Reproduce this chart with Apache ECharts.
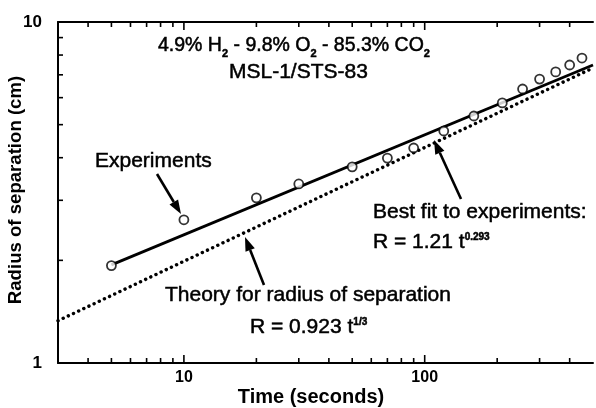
<!DOCTYPE html>
<html>
<head>
<meta charset="utf-8">
<script src="https://cdn.jsdelivr.net/npm/echarts@6/dist/echarts.min.js"></script>
<style>html,body{margin:0;padding:0;background:#fff}#chart{width:596px;height:408px}</style>
</head>
<body>
<div id="chart"></div>
<script>
const expTime = [5, 10, 20, 30, 50, 70, 90, 120, 160, 210, 255, 300, 350, 400, 450]
const expRadius = [1.93, 2.63, 3.05, 3.35, 3.76, 3.99, 4.27, 4.79, 5.30, 5.79, 6.36, 6.80, 7.14, 7.48, 7.84]
// best fit line  R = 1.21 t^0.293
const fitTime = [5, 500]
const fitRadius = [1.94, 7.48]
// theory line  R = 0.923 t^1/3
const theoryTime = [3, 500]
const theoryRadius = [1.33, 7.33]
// axis ranges and tick values
const xRange = [3, 500]
const yRange = [1, 10]
const xMajorTicks = [10, 100]
const xMinorTicks = [4, 5, 6, 7, 8, 9, 20, 30, 40, 50, 60, 70, 80, 90, 200, 300, 400]
const yMinorTicks = [2, 3, 4, 5, 6, 7, 8, 9]

const FONT = '"Liberation Sans", Arial, sans-serif'
const zip = (a, b) => a.map((v, i) => [v, b[i]])
const isDecade = v => Math.abs(Math.log10(v) - Math.round(Math.log10(v))) < 1e-6

const chart = echarts.init(document.getElementById('chart'))

// tick marks drawn inward on bottom+top (x) or left (y)
function xTicks(values, len) {
    return {
        type: 'custom', silent: true, clip: false, z: 4,
        data: values.map(v => [v, yRange[0]]),
        renderItem: (params, api) => {
            const v = api.value(0)
            const b = api.coord([v, yRange[0]])
            const t = api.coord([v, yRange[1]])
            const st = {stroke: '#000', lineWidth: 1.6}
            return {type: 'group', children: [
                {type: 'line', shape: {x1: b[0], y1: b[1], x2: b[0], y2: b[1] - len}, style: st},
                {type: 'line', shape: {x1: t[0], y1: t[1], x2: t[0], y2: t[1] + len}, style: st}
            ]}
        }
    }
}
function yTicks(values, len) {
    return {
        type: 'custom', silent: true, clip: false, z: 4,
        data: values.map(v => [xRange[0], v]),
        renderItem: (params, api) => {
            const p = api.coord([xRange[0], api.value(1)])
            return {type: 'line', shape: {x1: p[0], y1: p[1], x2: p[0] + len, y2: p[1]},
                style: {stroke: '#000', lineWidth: 1.6}}
        }
    }
}

function arrow(x1, y1, x2, y2) {
    const a = Math.atan2(y2 - y1, x2 - x1)
    const L = 14, W = 5
    const bx = x2 - L * Math.cos(a), by = y2 - L * Math.sin(a)
    const px = -Math.sin(a) * W, py = Math.cos(a) * W
    return [
        {type: 'line', shape: {x1: x1, y1: y1, x2: bx, y2: by}, style: {stroke: '#000', lineWidth: 2.6}},
        {type: 'polygon', shape: {points: [[x2, y2], [bx + px, by + py], [bx - px, by - py]]}, style: {fill: '#000'}}
    ]
}

function label(x, y, text, size, extra) {
    return {type: 'text', x: x, y: y, z: 10, style: Object.assign({
        text: text, fill: '#000', fontSize: size, fontFamily: FONT, verticalAlign: 'middle',
        stroke: '#000', lineWidth: 0.5
    }, extra || {})}
}
const sub = {fontSize: 11, fontFamily: FONT, verticalAlign: 'bottom', lineHeight: 11, fontWeight: 'bold'}
const sup = {fontSize: 10, fontFamily: FONT, verticalAlign: 'top', lineHeight: 10, fontWeight: 'bold'}

const axisBase = {
    type: 'log', logBase: 10,
    axisLine: {show: true, lineStyle: {color: '#000', width: 2}},
    axisTick: {show: false},
    minorTick: {show: false},
    splitLine: {show: false}
}

chart.setOption({
    animation: false,
    backgroundColor: '#fff',
    grid: {left: 58, top: 22, right: -6, bottom: 45},
    xAxis: [
        Object.assign({}, axisBase, {
            min: xRange[0], max: xRange[1], position: 'bottom',
            axisLabel: {color: '#000', fontSize: 16, fontWeight: 'bold', fontFamily: FONT, margin: 7,
                formatter: v => isDecade(v) ? String(Math.round(v)) : ''}
        }),
        Object.assign({}, axisBase, {
            min: xRange[0], max: xRange[1], position: 'top', axisLabel: {show: false}
        })
    ],
    yAxis: Object.assign({}, axisBase, {
        min: yRange[0], max: yRange[1],
        axisLabel: {color: '#000', fontSize: 17, fontWeight: 'bold', fontFamily: FONT, margin: 16,
            formatter: v => isDecade(v) ? String(Math.round(v)) : ''}
    }),
    series: [
        {
            type: 'line', data: zip(theoryTime, theoryRadius), showSymbol: false, symbol: 'none', z: 2,
            lineStyle: {color: '#000', width: 3.4, type: [0.1, 5.6], cap: 'round'}
        },
        {
            type: 'line', data: zip(fitTime, fitRadius), showSymbol: false, symbol: 'none', z: 2,
            lineStyle: {color: '#000', width: 2.8}
        },
        {
            type: 'scatter', data: zip(expTime, expRadius), symbol: 'circle', symbolSize: 9, z: 5,
            itemStyle: {color: '#fff', borderColor: '#000', borderWidth: 1.8}
        },
        xTicks(xMinorTicks, 5),
        xTicks(xMajorTicks, 8),
        yTicks(yMinorTicks, 5)
    ],
    graphic: [
        label(158, 46, '4.9% H{s|2} - 9.8% O{s|2} - 85.3% CO{s|2}', 19.5, {lineHeight: 26, rich: {s: sub}}),
        label(229, 72, 'MSL-1/STS-83', 21),
        label(95, 161, 'Experiments', 21),
        label(373, 212, 'Best fit to experiments:', 21),
        label(373, 242, 'R = 1.21 t{p|0.293}', 21, {lineHeight: 20, rich: {p: sup}}),
        label(165, 295, 'Theory for radius of separation', 21),
        label(250, 327, 'R = 0.923 t{p|1/3}', 21, {lineHeight: 20, rich: {p: sup}}),
        label(311, 397, 'Time (seconds)', 20, {align: 'center', fontWeight: 'bold', lineWidth: 0}),
        Object.assign(label(16, 190, 'Radius of separation (cm)', 18.6, {align: 'center', fontWeight: 'bold', lineWidth: 0}),
            {rotation: Math.PI / 2})
    ].concat(arrow(157, 174, 181, 214), arrow(461, 199, 434, 140), arrow(264, 285, 245, 237))
})
</script>
</body>
</html>
